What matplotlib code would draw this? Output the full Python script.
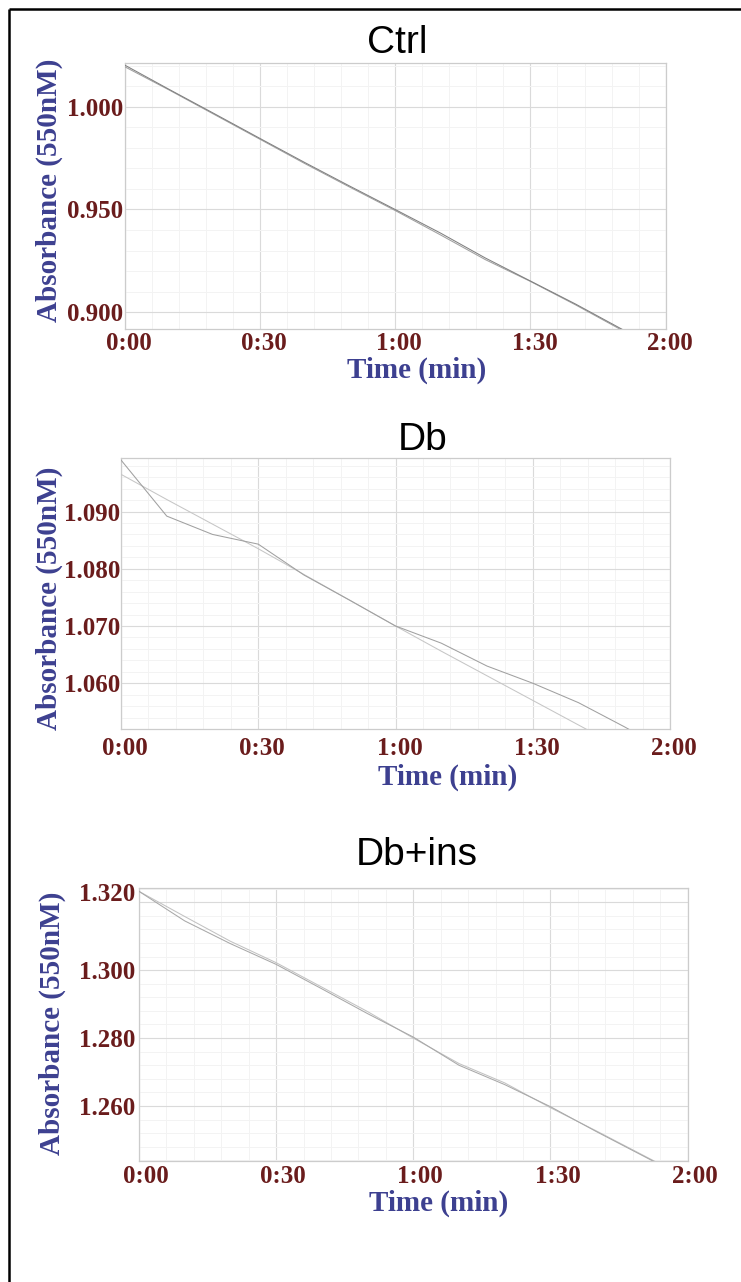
import matplotlib
matplotlib.use("Agg")
import matplotlib.pyplot as plt
from matplotlib.ticker import AutoMinorLocator
from matplotlib.transforms import ScaledTranslation
from matplotlib.lines import Line2D

# ---------------- data ----------------
time_s = [0, 10, 20, 30, 40, 50, 60, 70, 80, 90, 100, 110, 120]
x_ticks = [0, 30, 60, 90, 120]
x_tick_labels = ["0:00", "0:30", "1:00", "1:30", "2:00"]

titles = ["Ctrl", "Db", "Db+ins"]

ctrl_a = [1.0203, 1.0083, 0.9965, 0.9846, 0.9728, 0.9613, 0.9500, 0.9386, 0.9264, 0.9152, 0.9040, 0.8921, 0.8802]
ctrl_b = [1.0195, 1.0080, 0.9961, 0.9842, 0.9723, 0.9608, 0.9495, 0.9377, 0.9256, 0.9150, 0.9036, 0.8916, 0.8798]

db_a = [1.0990, 1.0892, 1.0860, 1.0843, 1.0789, 1.0745, 1.0700, 1.0670, 1.0630, 1.0600, 1.0566, 1.0524, 1.0480]
db_b = [1.0965, 1.0921, 1.0878, 1.0835, 1.0790, 1.0745, 1.0700, 1.0656, 1.0613, 1.0570, 1.0527, 1.0484, 1.0441]

dbins_a = [1.3232, 1.3145, 1.3078, 1.3017, 1.2945, 1.2872, 1.2803, 1.2720, 1.2663, 1.2598, 1.2525, 1.2455, 1.2385]
dbins_b = [1.3232, 1.3158, 1.3085, 1.3022, 1.2950, 1.2878, 1.2800, 1.2725, 1.2668, 1.2595, 1.2527, 1.2457, 1.2387]

ctrl_yticks = [0.900, 0.950, 1.000]
db_yticks = [1.060, 1.070, 1.080, 1.090]
dbins_yticks = [1.260, 1.280, 1.300, 1.320]

ctrl_ylim = (0.8917, 1.0215)
db_ylim = (1.0520, 1.0993)
dbins_ylim = (1.2439, 1.3241)

x_label = "Time (min)"
y_label = "Absorbance (550nM)"

# ---------------- style ----------------
W, H = 741, 1282
DPI = 100
MAROON = "#6a1c1c"
BLUE = "#3d4090"
SERIF = ["Liberation Serif", "DejaVu Serif"]
SANS = ["Liberation Sans", "DejaVu Sans"]

fig = plt.figure(figsize=(W / DPI, H / DPI), dpi=DPI)
fig.patch.set_facecolor("white")

def px_rect(left, top, right, bottom):
    return [left / W, 1 - bottom / H, (right - left) / W, (bottom - top) / H]

panels = [
    dict(rect=px_rect(124.5, 62.5, 665.7, 329.3), a=ctrl_a, b=ctrl_b, yt=ctrl_yticks,
         ylim=ctrl_ylim, fmt="{:.3f}", col_a="#808080", col_b="#a0a0a0",
         title_x=0.5035, title_pad=7, xpad=2.0, xdx=4, ypad=1.0,
         xl=(0.5405, -0.1525), yl=(-0.1384, 0.522)),
    dict(rect=px_rect(121, 458.3, 670, 729), a=db_a, b=db_b, yt=db_yticks,
         ylim=db_ylim, fmt="{:.3f}", col_a="#a0a0a0", col_b="#c6c6c6",
         title_x=0.55, title_pad=5, xpad=5.5, xdx=4, ypad=0.5,
         xl=(0.5956, -0.1773), yl=(-0.130, 0.484)),
    dict(rect=px_rect(139, 888.3, 687.6, 1160.7), a=dbins_a, b=dbins_b, yt=dbins_yticks,
         ylim=dbins_ylim, fmt="{:.3f}", col_a="#a8a8a8", col_b="#c2c2c2",
         title_x=0.507, title_pad=17, xpad=3.0, xdx=7, ypad=2.5,
         xl=(0.5468, -0.1553), yl=(-0.1586, 0.5055)),
]

for i, p in enumerate(panels):
    ax = fig.add_axes(p["rect"])
    ax.plot(time_s, p["b"], color=p["col_b"], lw=0.75, zorder=3)
    ax.plot(time_s, p["a"], color=p["col_a"], lw=0.75, zorder=3)
    ax.set_xlim(0, 120)
    ax.set_ylim(*p["ylim"])

    ax.set_xticks(x_ticks)
    ax.set_xticklabels(x_tick_labels)
    ax.set_yticks(p["yt"])
    ax.set_yticklabels([p["fmt"].format(v) for v in p["yt"]])
    ax.xaxis.set_minor_locator(AutoMinorLocator(5))
    ax.yaxis.set_minor_locator(AutoMinorLocator(5))

    ax.grid(True, which="major", color="#dadada", lw=0.8, zorder=0)
    ax.grid(True, which="minor", color="#f3f3f3", lw=0.7, zorder=0)
    ax.set_axisbelow(True)
    for s in ax.spines.values():
        s.set_color("#cccccc")
        s.set_linewidth(0.9)

    ax.tick_params(axis="both", which="both", length=0)
    ax.tick_params(axis="x", pad=p["xpad"])
    ax.tick_params(axis="y", pad=p["ypad"])
    for lab in ax.get_xticklabels():
        lab.set_fontfamily(SERIF)
        lab.set_fontweight("bold")
        lab.set_fontsize(18)
        lab.set_color(MAROON)
        lab.set_transform(lab.get_transform() +
                          ScaledTranslation(p["xdx"] / DPI, 0, fig.dpi_scale_trans))
    for lab in ax.get_yticklabels():
        lab.set_fontfamily(SERIF)
        lab.set_fontweight("bold")
        lab.set_fontsize(18)
        lab.set_color(MAROON)
        if i == 2 and lab.get_text() == "1.320":
            lab.set_transform(lab.get_transform() +
                              ScaledTranslation(0, 10 / DPI, fig.dpi_scale_trans))

    ax.set_title(titles[i], family=SANS, fontsize=28, color="black",
                 x=p["title_x"], pad=p["title_pad"])

    ax.set_xlabel(x_label, family=SERIF, fontweight="bold", fontsize=21, color=BLUE)
    ax.xaxis.set_label_coords(*p["xl"])
    ax.xaxis.label.set_va("center")
    ax.set_ylabel(y_label, family=SERIF, fontweight="bold", fontsize=21, color=BLUE)
    ax.yaxis.set_label_coords(*p["yl"])
    ax.yaxis.label.set_va("center")

# outer frame (top and left edges)
fig.add_artist(Line2D([9 / W, 1.0], [1 - 9 / H, 1 - 9 / H], transform=fig.transFigure,
                      color="black", lw=1.8, solid_capstyle="butt"))
fig.add_artist(Line2D([9 / W, 9 / W], [1 - 9 / H, 0.0], transform=fig.transFigure,
                      color="black", lw=1.8, solid_capstyle="butt"))

fig.savefig("out.png", dpi=DPI, facecolor="white")
